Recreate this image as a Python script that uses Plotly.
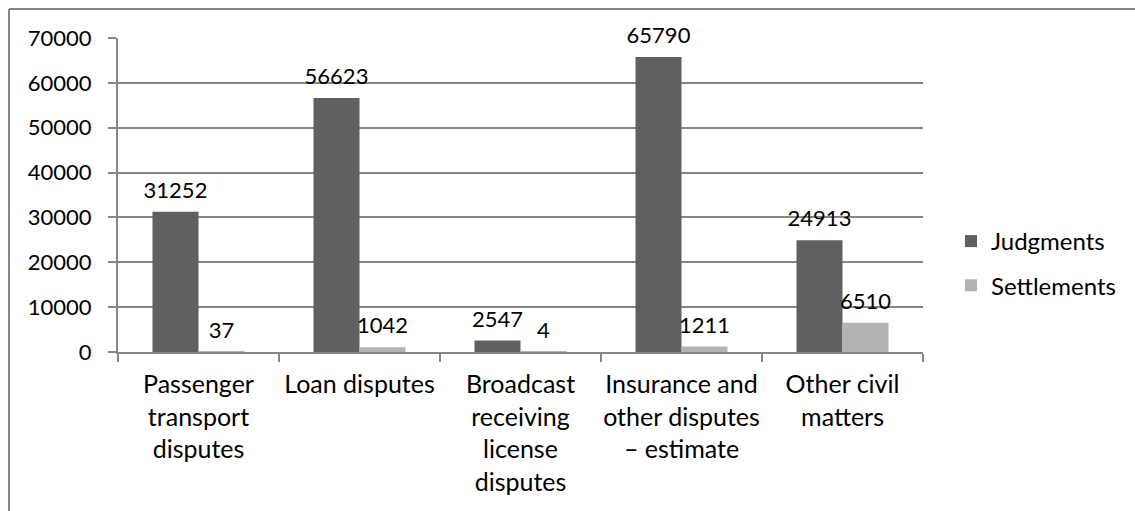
import plotly.graph_objects as go

categories = ["Passenger<br>transport<br>disputes", "Loan disputes",
              "Broadcast<br>receiving<br>license<br>disputes",
              "Insurance and<br>other disputes<br>– estimate", "Other civil<br>matters"]
judgments = [31252, 56623, 2547, 65790, 24913]
settlements = [37, 1042, 4, 1211, 6510]
y_ticks = [0, 10000, 20000, 30000, 40000, 50000, 60000, 70000]

FONT = "Lato, 'Open Sans', sans-serif"
FS_NUM = 22
FS_TXT = 24

L, R, T, B = 118, 923, 38, 352
W, H = 1135, 511
GAP = 1.5 / 3.5

fig = go.Figure()
series = [("Judgments", judgments, "#606060", "a"),
          ("Settlements", settlements, "#b3b3b3", "b")]
for name, vals, col, grp in series:
    fig.add_trace(go.Bar(name=name, x=categories, y=vals,
                         marker=dict(color=col, line=dict(width=0)),
                         offsetgroup=grp, alignmentgroup="g",
                         legendgroup=grp, hoverinfo="x+y+name"))
for name, vals, col, grp in series:
    fig.add_trace(go.Scatter(x=categories, y=vals, mode="markers+text",
                             text=[str(v) for v in vals],
                             textposition="top center",
                             textfont=dict(family=FONT, size=FS_NUM, color="#000000"),
                             marker=dict(size=12, opacity=0, color=col),
                             offsetgroup=grp, alignmentgroup="g",
                             showlegend=False, hoverinfo="skip",
                             cliponaxis=False))

pw, ph = R - L, B - T
def px_x(p):
    return (p - L) / pw
def px_y(p):
    return (B - p) / ph

fig.update_layout(
    width=W, height=H,
    margin=dict(l=L, r=W - R, t=T, b=H - B, autoexpand=False),
    paper_bgcolor="white", plot_bgcolor="white",
    barmode="group", bargap=GAP, bargroupgap=0,
    scattermode="group", scattergap=GAP,
    font=dict(family=FONT, size=FS_TXT, color="#000000"),
    showlegend=True,
    legend=dict(x=px_x(951), y=px_y(219), xanchor="left", yanchor="top",
                font=dict(family=FONT, size=FS_TXT, color="#000000"),
                traceorder="grouped", tracegroupgap=10,
                itemwidth=30, bgcolor="rgba(0,0,0,0)"),
    xaxis=dict(type="category", showgrid=False, showline=True,
               linecolor="#868686", linewidth=2, ticks="outside",
               tickson="boundaries", ticklen=8, tickcolor="#868686",
               tickwidth=2, tickangle=0, ticklabelstandoff=9,
               tickfont=dict(family=FONT, size=25, color="#000000")),
    yaxis=dict(range=[0, 70000], tickvals=y_ticks,
               ticktext=[str(v) for v in y_ticks],
               showgrid=True, gridcolor="#868686", gridwidth=2,
               showline=True, linecolor="#868686", linewidth=2,
               ticks="outside", ticklen=8, tickcolor="#868686", tickwidth=2,
               zeroline=False, ticklabelstandoff=12,
               tickfont=dict(family=FONT, size=FS_NUM, color="#000000")),
    shapes=[
        dict(type="line", xref="paper", yref="paper",
             x0=px_x(9), x1=px_x(1140), y0=px_y(9), y1=px_y(9),
             line=dict(color="#868686", width=2)),
        dict(type="line", xref="paper", yref="paper",
             x0=px_x(9), x1=px_x(9), y0=px_y(9), y1=px_y(520),
             line=dict(color="#868686", width=2)),
    ],
)

fig.write_html("out.html")
